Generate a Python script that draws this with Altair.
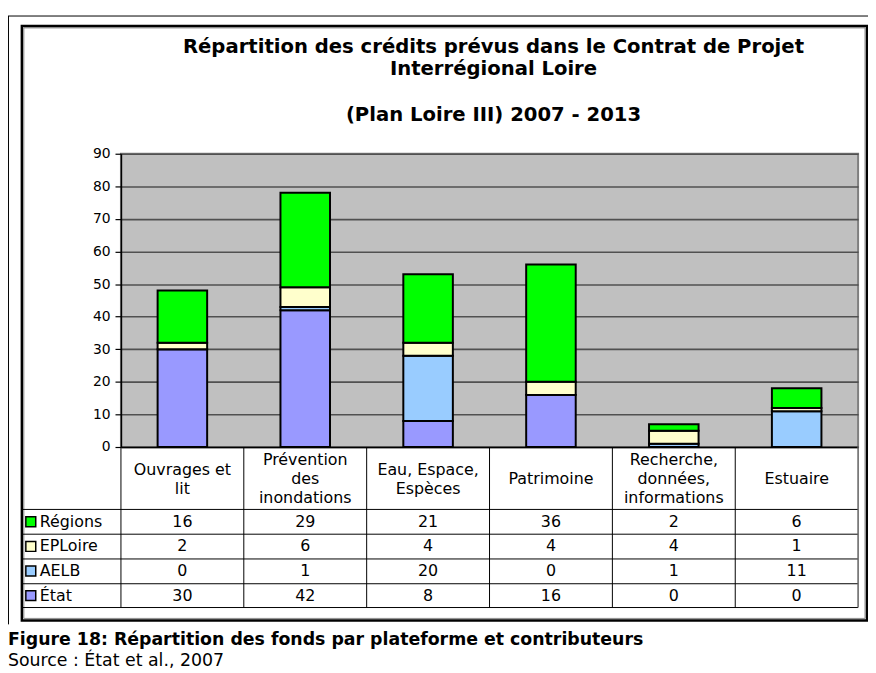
import altair as alt
import pandas as pd

# ---- data ----
categories = ["Ouvrages et\nlit", "Prévention\ndes\ninondations", "Eau, Espace,\nEspèces",
              "Patrimoine", "Recherche,\ndonnées,\ninformations", "Estuaire"]
series = ["État", "AELB", "EPLoire", "Régions"]          # bottom -> top of the stack
etat = [30, 42, 8, 16, 0, 0]
aelb = [0, 1, 20, 0, 1, 11]
eploire = [2, 6, 4, 4, 4, 1]
regions = [16, 29, 21, 36, 2, 6]
colors = ["#9999FF", "#99CCFF", "#FFFFCC", "#00FF00"]
table_rows = ["Régions", "EPLoire", "AELB", "État"]      # order of the data-table rows
y_ticks = [0, 10, 20, 30, 40, 50, 60, 70, 80, 90]
title_lines = ["Répartition des crédits prévus dans le Contrat de Projet",
               "Interrégional Loire", "", "(Plan Loire III) 2007 - 2013"]
caption = "Figure 18: Répartition des fonds par plateforme et contributeurs"
source = "Source : État et al., 2007"

rows = []
for si, (s, vals) in enumerate(zip(series, [etat, aelb, eploire, regions])):
    for c, v in zip(categories, vals):
        rows.append({"cat": c, "series": s, "value": v, "order": si})
df = pd.DataFrame(rows)
leg_df = pd.DataFrame({"series": series})
cat_df = pd.DataFrame({"cat": categories})
one = pd.DataFrame({"k": [0]})

# ---- layout (pixels, plot-area coordinates) ----
FONT = "DejaVu Sans"
W, H = 744, 296
HEAD_MID, HEAD_LH = 328.5, 19
head_rows = []
for c in categories:
    parts = c.split("\n")
    for i, p in enumerate(parts):
        head_rows.append({"cat": c, "line": p,
                          "py": HEAD_MID + (i - (len(parts) - 1) / 2) * HEAD_LH})
head_df = pd.DataFrame(head_rows)
TITLE_TOP, TITLE_LH = -108, 23
title_df = pd.DataFrame([{"line": t, "py": TITLE_TOP + i * TITLE_LH}
                         for i, t in enumerate(title_lines) if t])
hlines = pd.DataFrame({"py": [359, 384, 409, 434, 458]})

x_axis = alt.Axis(labels=False, ticks=False, title=None, grid=False,
                  domainColor="black", domainWidth=1.5)
x_scale = alt.Scale(domain=categories, paddingInner=0, paddingOuter=0)
X = alt.X("cat:N", scale=x_scale, sort=categories, axis=x_axis)
color_scale = alt.Scale(domain=series, range=colors)
row_scale = alt.Scale(type="point", domain=table_rows, range=[371.5, 446], padding=0)

bars = alt.Chart(df).mark_bar(size=50, stroke="black", strokeWidth=2).encode(
    x=X,
    y=alt.Y("value:Q", stack="zero",
            scale=alt.Scale(domain=[0, 90], nice=False),
            axis=alt.Axis(values=y_ticks, title=None, labelFont=FONT, labelFontSize=14,
                          labelColor="black", labelPadding=5, labelFlush=False,
                          domainColor="black", domainWidth=1.5,
                          tickColor="black", tickSize=6, tickWidth=1.2,
                          grid=True, gridColor="#505050", gridWidth=1.6)),
    color=alt.Color("series:N", scale=color_scale, legend=None),
    order=alt.Order("order:Q", sort="ascending"),
)

header = alt.Chart(head_df).mark_text(font=FONT, fontSize=16, baseline="middle",
                                      color="black").encode(
    x=X, y=alt.Y("py:Q", scale=None, axis=None), text="line:N")

vlines = alt.Chart(cat_df).mark_rule(color="black", strokeWidth=1).encode(
    x=alt.X("cat:N", scale=x_scale, sort=categories, axis=x_axis, bandPosition=0),
    y=alt.value(296), y2=alt.value(458))

right_line = alt.Chart(one).mark_rule(color="#606060", strokeWidth=1.5).encode(
    x=alt.value(W), y=alt.value(296), y2=alt.value(458))

hrules = alt.Chart(hlines).mark_rule(color="black", strokeWidth=1).encode(
    y=alt.Y("py:Q", scale=None, axis=None), x=alt.value(-100), x2=alt.value(W))

cells = alt.Chart(df).mark_text(font=FONT, fontSize=16, baseline="middle", color="black").encode(
    x=X, y=alt.Y("series:N", scale=row_scale, axis=None), text="value:Q")

swatches = alt.Chart(leg_df).mark_point(shape="square", size=100, filled=True, opacity=1,
                                        stroke="black", strokeWidth=1.5).encode(
    x=alt.value(-91), y=alt.Y("series:N", scale=row_scale, axis=None),
    fill=alt.Fill("series:N", scale=color_scale, legend=None))

leg_text = alt.Chart(leg_df).mark_text(font=FONT, fontSize=16, align="left", baseline="middle",
                                       color="black").encode(
    x=alt.value(-82), y=alt.Y("series:N", scale=row_scale, axis=None), text="series:N")

title = alt.Chart(title_df).mark_text(font=FONT, fontSize=19.8, fontWeight="bold",
                                      baseline="middle", color="black").encode(
    x=alt.value(W / 2 + 4), y=alt.Y("py:Q", scale=None, axis=None), text="line:N")

frame = alt.Chart(one).mark_rect(fillOpacity=0, stroke="black", strokeWidth=2.5).encode(
    x=alt.value(-100), x2=alt.value(753), y=alt.value(-129), y2=alt.value(471))
frame_in = alt.Chart(one).mark_rect(fillOpacity=0, stroke="#8a8a8a", strokeWidth=1).encode(
    x=alt.value(-98), x2=alt.value(751), y=alt.value(-127), y2=alt.value(469))
outer_top = alt.Chart(one).mark_rule(color="black", strokeWidth=1).encode(
    x=alt.value(-114), x2=alt.value(760), y=alt.value(-139))
outer_left = alt.Chart(one).mark_rule(color="black", strokeWidth=1).encode(
    x=alt.value(-113.5), y=alt.value(-139), y2=alt.value(475))

cap = alt.Chart(one).mark_text(font=FONT, fontSize=17.5, fontWeight="bold", align="left",
                               baseline="alphabetic", color="black").encode(
    x=alt.value(-114), y=alt.value(496), text=alt.value(caption))
src = alt.Chart(one).mark_text(font=FONT, fontSize=17.5, align="left",
                               baseline="alphabetic", color="black").encode(
    x=alt.value(-114), y=alt.value(517), text=alt.value(source))

chart = alt.layer(
    frame_in, frame, outer_top, outer_left, bars, hrules, vlines, right_line,
    header, cells, swatches, leg_text, title, cap, src
).resolve_scale(y="independent").properties(
    width=W, height=H,
    padding={"left": 114, "top": 144, "right": 10, "bottom": 225},
    autosize=alt.AutoSizeParams(type="none"),
).configure_view(fill="#C0C0C0", stroke="#7f7f7f", strokeWidth=2)

chart.save("out.html", embed_options={"renderer": "svg", "actions": False})
